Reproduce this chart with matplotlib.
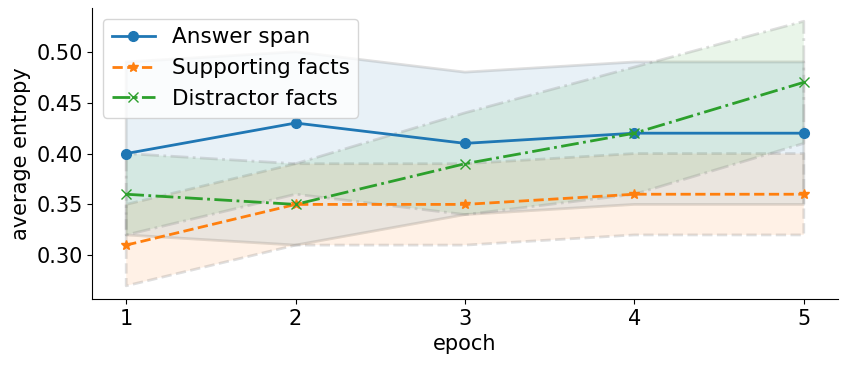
import matplotlib.pyplot as plt

epochs = [1, 2, 3, 4, 5]

answer_mean = [0.40, 0.43, 0.41, 0.42, 0.42]
answer_low = [0.32, 0.31, 0.34, 0.35, 0.35]
answer_high = [0.49, 0.50, 0.48, 0.49, 0.49]

support_mean = [0.31, 0.35, 0.35, 0.36, 0.36]
support_low = [0.27, 0.31, 0.31, 0.32, 0.32]
support_high = [0.35, 0.39, 0.39, 0.40, 0.40]

distract_mean = [0.36, 0.35, 0.39, 0.42, 0.47]
distract_low = [0.32, 0.36, 0.34, 0.36, 0.41]
distract_high = [0.40, 0.39, 0.44, 0.485, 0.53]

series = [
    ('Answer span', answer_mean, answer_low, answer_high, 'tab:blue', '-', 'o'),
    ('Supporting facts', support_mean, support_low, support_high, 'tab:orange', '--', '*'),
    ('Distractor facts', distract_mean, distract_low, distract_high, 'tab:green', '-.', 'x'),
]

fig = plt.figure(figsize=(8.47, 3.66), dpi=100)
ax = fig.add_axes([0.109, 0.183, 0.880, 0.795])

for name, mean, low, high, color, ls, mk in series:
    # banda de variación + borde gris
    ax.fill_between(epochs, low, high, facecolor=color, alpha=0.1)
    ax.fill_between(epochs, low, high, facecolor='none', edgecolor='gray',
                    alpha=0.25, linestyle=ls, linewidth=2)
    ax.plot(epochs, mean, color=color, linestyle=ls, marker=mk,
            linewidth=2, markersize=7, label=name)

ax.set_xticks(epochs)
ax.set_yticks([0.30, 0.35, 0.40, 0.45, 0.50])
ax.tick_params(labelsize=15)
ax.set_xlabel('epoch', fontsize=15)
ax.set_ylabel('average entropy', fontsize=15)
ax.spines['top'].set_visible(False)
ax.spines['right'].set_visible(False)
ax.legend(loc='upper left', fontsize=15.5)

fig.savefig('out.png', dpi=100)
